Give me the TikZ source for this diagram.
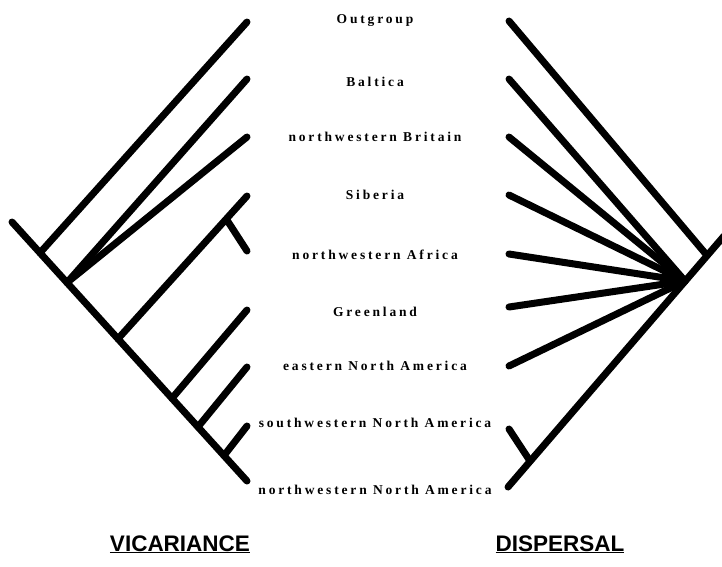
\documentclass[tikz,border=0pt]{standalone}
\usepackage{fontspec}
\setmainfont{Liberation Serif}
\newfontfamily\labfont{Liberation Serif}[LetterSpace=21]
\newfontfamily\titlefont{Liberation Sans}
\begin{document}
\begin{tikzpicture}[x=1pt,y=-1pt,
  br/.style={line width=7pt,line cap=round},
  lab/.style={font=\labfont\bfseries\fontsize{13.5}{15}\selectfont,inner sep=0pt,anchor=base},
  ttl/.style={font=\titlefont\bfseries\fontsize{22.5}{26}\selectfont,inner sep=0pt,anchor=base}]
\useasboundingbox (0,0) rectangle (722,566);
% ---------- left tree (vicariance)
\coordinate (Lroot) at (12,222);
\coordinate (Lend) at (247,481);
\coordinate (La) at (40,252.8);
\coordinate (Lb) at (67,282.6);
\coordinate (Lc) at (118,338.8);
\coordinate (Ld) at (172,398.3);
\coordinate (Le) at (198,426.9);
\coordinate (Lf) at (224,455.6);
\coordinate (Lg) at (227,220.1);
\coordinate (L1) at (247,22);
\coordinate (L2) at (247,79);
\coordinate (L3) at (247,137);
\coordinate (L4) at (247,196);
\coordinate (L5) at (247,251);
\coordinate (L6) at (247,310);
\coordinate (L7) at (247,367);
\coordinate (L8) at (247,426);
\draw[br] (Lroot) -- (Lend);
\draw[br] (La) -- (L1);
\draw[br] (Lb) -- (L2);
\draw[br] (Lb) -- (L3);
\draw[br] (Lc) -- (L4);
\draw[br] (Lg) -- (L5);
\draw[br] (Ld) -- (L6);
\draw[br] (Le) -- (L7);
\draw[br] (Lf) -- (L8);
% ---------- right tree (dispersal)
\coordinate (Rend) at (508,487);
\coordinate (Rtop) at (724,236);
\coordinate (Ra) at (707,255.4);
\coordinate (Rh) at (685,281);
\coordinate (Rs) at (530,461);
\coordinate (R1) at (509,21);
\coordinate (R2) at (509,79);
\coordinate (R3) at (509,137);
\coordinate (R4) at (509,195);
\coordinate (R5) at (509,254);
\coordinate (R6) at (509,307);
\coordinate (R7) at (509,366);
\coordinate (R8) at (509,429);
\draw[br] (Rend) -- (Rtop);
\draw[br] (Ra) -- (R1);
\foreach \i in {2,...,7} {\draw[br] (Rh) -- (R\i);}
\draw[br] (Rs) -- (R8);
% ---------- labels
\node[lab] (t1) at (375,23) {Outgroup};
\node[lab] (t2) at (375,86) {Baltica};
\node[lab] (t3) at (375,141) {northwestern Britain};
\node[lab] (t4) at (375,199) {Siberia};
\node[lab] (t5) at (375,259) {northwestern Africa};
\node[lab] (t6) at (375,316) {Greenland};
\node[lab] (t7) at (375,370) {eastern North America};
\node[lab] (t8) at (375,427) {southwestern North America};
\node[lab] (t9) at (375,494) {northwestern North America};
% ---------- titles
\node[ttl] (v) at (180,551) {\underline{VICARIANCE}};
\node[ttl] (d) at (560,551) {\underline{DISPERSAL}};
\end{tikzpicture}
\end{document}
